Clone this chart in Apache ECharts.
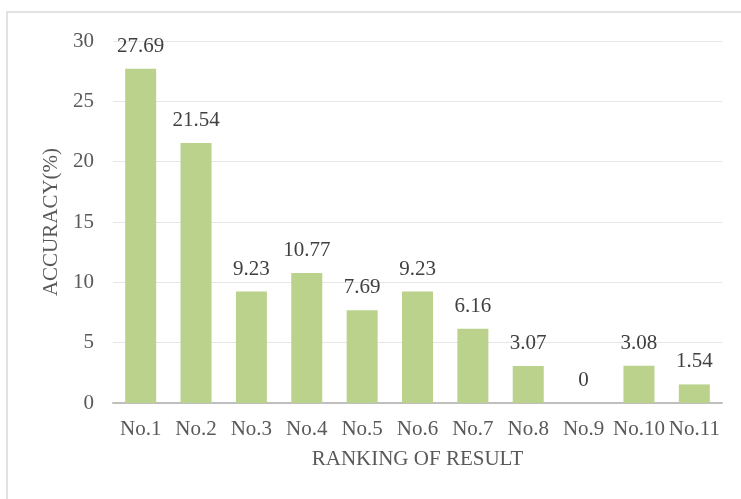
<!DOCTYPE html>
<html>
<head>
<meta charset="utf-8">
<script src="https://cdn.jsdelivr.net/npm/echarts@6/dist/echarts.min.js"></script>
<style>
  html, body { margin: 0; padding: 0; background: #fff; }
  #chart { width: 741px; height: 499px; }
</style>
</head>
<body>
<div id="chart"></div>
<script>
const categories = ['No.1', 'No.2', 'No.3', 'No.4', 'No.5', 'No.6', 'No.7', 'No.8', 'No.9', 'No.10', 'No.11'];
const accuracy = [27.69, 21.54, 9.23, 10.77, 7.69, 9.23, 6.16, 3.07, 0, 3.08, 1.54];
const yTicks = [0, 5, 10, 15, 20, 25, 30];

const font = 'Liberation Serif';
const textColor = '#595959';

const chart = echarts.init(document.getElementById('chart'));
chart.setOption({
  animation: false,
  graphic: [{
    type: 'rect',
    shape: { x: 7, y: 12, width: 740, height: 495 },
    style: { fill: 'none', stroke: '#d9d9d9', lineWidth: 1.5 },
    z: -1
  }],
  grid: { left: 113, right: 19, top: 41, bottom: 96, containLabel: false },
  xAxis: {
    type: 'category',
    data: categories,
    name: 'RANKING OF RESULT',
    nameLocation: 'middle',
    nameGap: 46,
    nameTextStyle: { fontFamily: font, fontSize: 21, color: textColor },
    axisLine: { lineStyle: { color: '#bfbfbf', width: 2 } },
    axisTick: { show: false },
    axisLabel: { fontFamily: font, fontSize: 21, color: textColor, margin: 16, interval: 0 }
  },
  yAxis: {
    type: 'value',
    min: yTicks[0],
    max: yTicks[yTicks.length - 1],
    interval: 5,
    name: 'ACCURACY(%)',
    nameLocation: 'middle',
    nameGap: 50,
    nameTextStyle: { fontFamily: font, fontSize: 21, color: textColor },
    axisLine: { show: false },
    axisTick: { show: false },
    splitLine: { lineStyle: { color: '#e6e6e6', width: 1 } },
    axisLabel: { fontFamily: font, fontSize: 21, color: textColor, margin: 19 }
  },
  series: [{
    type: 'bar',
    data: accuracy,
    barWidth: 31,
    itemStyle: { color: '#bad28c' },
    label: {
      show: true,
      position: 'top',
      distance: 12,
      fontFamily: font,
      fontSize: 21,
      color: '#404040'
    }
  }]
});
</script>
</body>
</html>
